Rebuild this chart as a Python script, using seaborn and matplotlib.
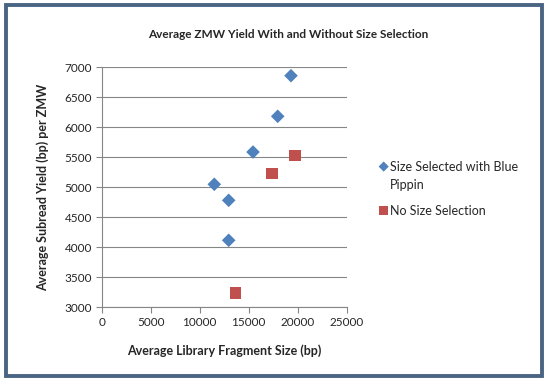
import matplotlib
matplotlib.use("Agg")
import matplotlib.pyplot as plt
import seaborn as sns
import pandas as pd
from matplotlib.patches import FancyBboxPatch

sel_x = [19316, 17960, 15440, 11490, 12960, 12960]
sel_y = [6860, 6183, 5588, 5050, 4783, 4117]
nos_x = [19725, 17350, 13670]
nos_y = [5527, 5227, 3243]
series = ["Size Selected with Blue\nPippin", "No Size Selection"]
xticks = [0, 5000, 10000, 15000, 20000, 25000]
yticks = [3000, 3500, 4000, 4500, 5000, 5500, 6000, 6500, 7000]

sns.set_style("white")
plt.rcParams["font.family"] = ["Lato", "DejaVu Sans"]

fig = plt.figure(figsize=(5.48, 3.81), dpi=100)
fig.patch.set_facecolor("white")
border = FancyBboxPatch((0.011, 0.014), 0.978, 0.972, boxstyle="square,pad=0",
                        transform=fig.transFigure, fill=False,
                        edgecolor="#4A6584", linewidth=2.8)
fig.patches.append(border)

ax = fig.add_axes([0.1855, 0.1934, 0.4472, 0.63])
sns.scatterplot(x=sel_x, y=sel_y, color="#4F81BD", marker="D", s=48,
                edgecolor="none", ax=ax, label=series[0])
sns.scatterplot(x=nos_x, y=nos_y, color="#C0504D", marker="s", s=70,
                edgecolor="none", ax=ax, label=series[1])

ax.set_xlim(0, 25000)
ax.set_ylim(3000, 7000)
ax.set_xticks(xticks)
ax.set_yticks(yticks)
ax.set_xticklabels([str(t) for t in xticks], fontsize=8.5)
ax.set_yticklabels([str(t) for t in yticks], fontsize=8.5)
ax.yaxis.grid(True, color="#868686", linewidth=0.8)
ax.set_axisbelow(True)
for sp in ["top", "right"]:
    ax.spines[sp].set_visible(False)
for sp in ["left", "bottom"]:
    ax.spines[sp].set_color("#868686")
    ax.spines[sp].set_linewidth(0.8)
ax.tick_params(axis="both", which="both", length=4, color="#868686",
               direction="out", left=True, bottom=True, pad=3)
ax.set_xlabel("Average Library Fragment Size (bp)", fontsize=9,
              fontweight="bold", labelpad=12)
ax.set_ylabel("Average Subread Yield (bp) per ZMW", fontsize=9,
              fontweight="bold", labelpad=11)
fig.text(0.525, 0.91, "Average ZMW Yield With and Without Size Selection",
         ha="center", va="center", fontsize=8.5, fontweight="bold")

leg = ax.legend(loc="upper left", bbox_to_anchor=(1.11, 0.63), frameon=False,
                fontsize=9, handletextpad=0.1, labelspacing=1.1,
                handlelength=0.8, borderaxespad=0, markerscale=0.75)
for t in leg.get_texts():
    t.set_linespacing(1.6)
try:
    for col in leg._legend_handle_box.get_children():
        for item in col.get_children():
            item.align = "top"
except Exception:
    pass

fig.savefig("out.png", dpi=100)
